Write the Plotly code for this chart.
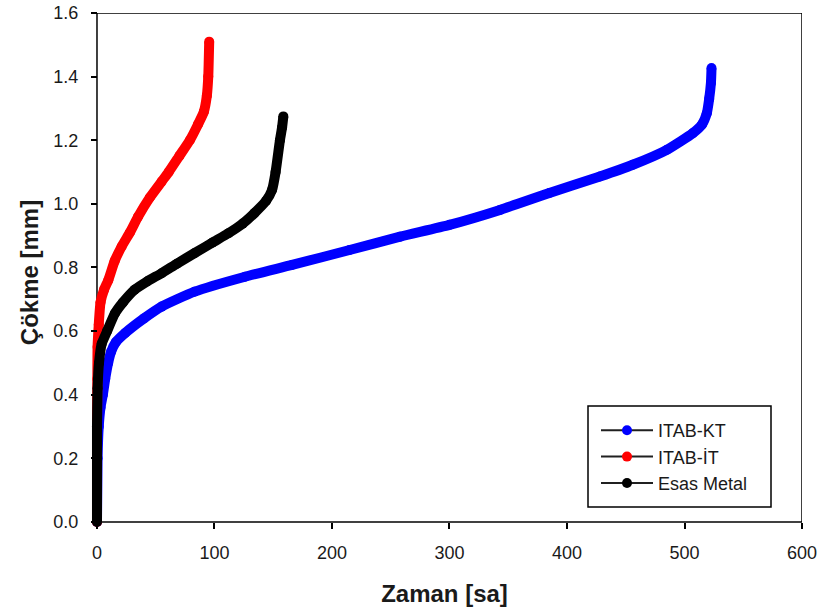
import plotly.graph_objects as go

# ---- data ----
kt_x = [0, 0.5, 1.5, 3, 5, 7, 9.5, 12, 16, 24, 40, 55, 83, 126, 166, 215, 258, 300, 343, 385, 428, 456, 485, 507, 515, 519, 521, 522.5, 523]
kt_y = [0, 0.2, 0.3, 0.36, 0.40, 0.45, 0.50, 0.535, 0.565, 0.594, 0.64, 0.677, 0.724, 0.771, 0.808, 0.855, 0.897, 0.934, 0.981, 1.034, 1.086, 1.123, 1.17, 1.222, 1.25, 1.285, 1.33, 1.38, 1.427]

it_x = [0, 0, 0.3, 0.5, 1.5, 3, 6, 9.6, 15, 21, 28, 35, 45, 55, 61, 70, 79, 86, 91, 93.5, 94.7, 95.5]
it_y = [0, 0.3, 0.45, 0.55, 0.62, 0.69, 0.73, 0.76, 0.82, 0.866, 0.91, 0.96, 1.02, 1.07, 1.1, 1.15, 1.2, 1.25, 1.29, 1.34, 1.4, 1.51]

em_x = [0, 0, 0.5, 1.7, 4, 8.6, 15.3, 22, 32, 43, 55, 68, 83, 98, 112, 124, 134, 144, 149, 152, 155.7, 157.5, 158.6]
em_y = [0, 0.3, 0.42, 0.5, 0.56, 0.6, 0.656, 0.69, 0.73, 0.757, 0.782, 0.812, 0.845, 0.878, 0.908, 0.938, 0.971, 1.01, 1.044, 1.1, 1.2, 1.24, 1.275]

names = ["ITAB-KT", "ITAB-İT", "Esas Metal"]
colors = ["#0000FF", "#FF0000", "#000000"]
x_ticks = [0, 100, 200, 300, 400, 500, 600]
y_ticks = [0.0, 0.2, 0.4, 0.6, 0.8, 1.0, 1.2, 1.4, 1.6]

FONT = "Liberation Sans, Arial, sans-serif"
TXT = "#1a1a1a"

# plot area is slightly larger than the axes box so thick curves at x=0 / y=0 are not clipped
X0, X1 = 0, 600
Y0, Y1 = 0, 1.6
XPAD, YPAD = 8.5, 0.0315
L, R, T, B = 87, 18, 13, 80
W, H = 820, 612
PW, PH = W - L - R, H - T - B

fig = go.Figure()
series = [(kt_x, kt_y), (it_x, it_y), (em_x, em_y)]
for (xs, ys), c in zip(series, colors):
    fig.add_trace(go.Scatter(
        x=xs, y=ys, mode="lines+markers",
        line=dict(color=c, width=10, shape="spline", smoothing=0.5),
        marker=dict(color=c, size=10),
        cliponaxis=False, showlegend=False, hoverinfo="skip"))

# legend entries: dark line with coloured marker
for n, c in zip(names, colors):
    fig.add_trace(go.Scatter(
        x=[None], y=[None], mode="lines+markers", name=n,
        line=dict(color="#202020", width=2),
        marker=dict(color=c, size=10)))

def px_x(p):
    return (p - L) / PW

def px_y(p):
    return (H - B - p) / PH

spine = dict(color="black", width=1.5)
shapes = [
    dict(type="line", xref="x", yref="y", x0=X0, x1=X1, y0=Y0, y1=Y0, line=spine, layer="below"),
    dict(type="line", xref="x", yref="y", x0=X0, x1=X1, y0=Y1, y1=Y1, line=spine, layer="below"),
    dict(type="line", xref="x", yref="y", x0=X0, x1=X0, y0=Y0, y1=Y1, line=spine, layer="below"),
    dict(type="line", xref="x", yref="y", x0=X1, x1=X1, y0=Y0, y1=Y1, line=spine, layer="below"),
    dict(type="rect", xref="paper", yref="paper",
         x0=px_x(588), x1=px_x(771), y0=px_y(507), y1=px_y(406),
         line=dict(color="black", width=1.5), fillcolor="rgba(0,0,0,0)"),
]

fig.update_layout(
    width=W, height=H,
    margin=dict(l=L, r=R, t=T, b=B),
    paper_bgcolor="white", plot_bgcolor="white",
    font=dict(family=FONT, size=18, color=TXT),
    showlegend=True,
    legend=dict(x=px_x(596), y=px_y(412), xanchor="left", yanchor="top",
                bgcolor="rgba(0,0,0,0)", borderwidth=0,
                font=dict(size=18, color=TXT),
                itemwidth=52, tracegroupgap=0),
    shapes=shapes,
)

fig.update_xaxes(
    range=[X0 - XPAD, X1], tickvals=x_ticks, ticks="outside", ticklen=6, tickwidth=1.5,
    tickcolor="black", showline=False, showgrid=False, zeroline=False,
    anchor="free", position=YPAD / (Y1 - Y0 + YPAD), automargin=False,
    ticklabelstandoff=8, tickfont=dict(size=18),
    title=dict(text="<b>Zaman [sa]</b>", font=dict(size=24, color=TXT), standoff=23))

fig.update_yaxes(
    range=[Y0 - YPAD, Y1], tickvals=y_ticks, tickformat=".1f", ticks="outside", ticklen=6,
    tickwidth=1.5, tickcolor="black", showline=False, showgrid=False, zeroline=False,
    anchor="free", position=XPAD / (X1 - X0 + XPAD), automargin=False,
    ticklabelstandoff=9, tickfont=dict(size=18),
    title=dict(text="<b>Çökme [mm]</b>", font=dict(size=24, color=TXT), standoff=6))

fig.write_html("out.html", config={"displayModeBar": False},
               post_script="document.body.style.margin='0';")
